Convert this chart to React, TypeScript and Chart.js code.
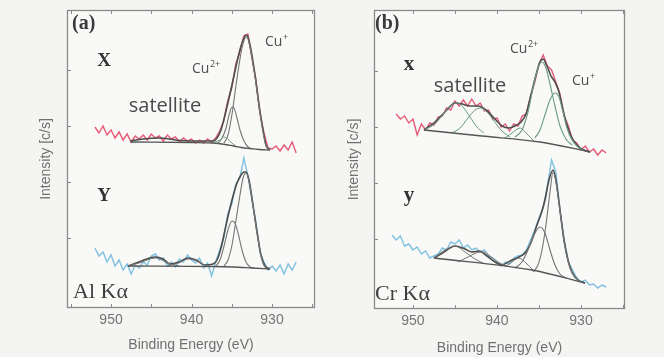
import React, { useEffect, useRef } from "react";
import { Chart, registerables } from "chart.js";
Chart.register(...registerables);

// ---------------- Panel (a): Al Kα ----------------
const aDataE = [952, 951.5, 951, 950.5, 950, 949.5, 949, 948.5, 948, 947.5, 947, 946.5, 946, 945.5, 945, 944.5, 944, 943.5, 943, 942.5, 942, 941.5, 941, 940.5, 940, 939.5, 939, 938.5, 938, 937.5, 937, 936.5, 936, 935.5, 935, 934.5, 934, 933.5, 933, 932.5, 932, 931.5, 931, 930.5, 930, 929.5, 929, 928.5, 928, 927.5, 927];
const aXData = [180, 174, 181, 172, 177, 169, 175, 167, 173, 165, 171, 168, 172, 167, 173, 169, 171, 166, 172, 168, 170, 165, 169, 166, 168, 164, 167, 164, 168, 165, 169, 176, 186, 206, 219, 243, 255, 271, 273, 249, 227, 194, 174, 159, 158, 161, 156, 162, 157, 165, 154];
const aYData = [59, 51, 55, 45, 52, 41, 47, 37, 43, 33, 42, 39, 45, 42, 51, 53, 47, 49, 41, 45, 40, 48, 45, 52, 47, 44, 49, 39, 44, 31, 45, 57, 69, 93, 103, 123, 129, 149, 131, 107, 85, 55, 45, 37, 41, 36, 42, 33, 43, 37, 45];

const aXFitE = [947.6, 946, 944, 942, 940, 938.5, 937.33, 936.83, 936.34, 935.84, 935.34, 934.84, 934.35, 933.85, 933.48, 933.23, 932.98, 932.61, 932.11, 931.61, 931.12, 930.75, 930.25];
const aXFitI = [166, 168, 169, 167, 166, 166, 166, 169, 177, 192, 209, 227, 245, 261, 269, 272, 270, 257, 232, 202, 177, 162, 157];
const aXBgE = [947.6, 940, 937.3, 935.8, 934.8, 933.8, 932.8, 931.6, 930.25];
const aXBgI = [165, 164.5, 164, 162.5, 161, 159.5, 158.5, 157.5, 157];
const aXCu1E = [935.96, 935.47, 935.09, 934.84, 934.47, 934.1, 933.73, 933.35, 933.17, 932.98, 932.61, 932.11, 931.61, 931.12, 930.75, 930.25];
const aXCu1I = [164, 172, 187, 200, 222, 242, 259, 269, 270, 268, 255, 230, 200, 175, 161, 157];
const aXCu2E = [936.71, 936.21, 935.71, 935.34, 934.97, 934.72, 934.35, 933.98, 933.48, 932.98, 932.48];
const aXCu2I = [164, 169, 179, 192, 200, 199, 189, 177, 166, 160, 158];
const aXSatE = [937.5, 936.5, 936, 935.5, 935, 934.5];
const aXSatI = [164, 167, 170, 168, 164, 161];

const aYFitE = [947.9, 946.52, 944.53, 943.54, 942.67, 941.55, 940.43, 939.44, 938.32, 937.33, 936.83, 936.34, 935.84, 935.34, 934.84, 934.35, 933.85, 933.48, 933.23, 932.86, 932.36, 931.86, 931.37, 930.87, 930.25];
const aYFitI = [41, 45, 50, 48, 43, 45, 49, 47, 42, 43, 47, 59, 77, 95, 111, 124, 132, 135, 135, 127, 102, 75, 52, 41, 38];
const aYBgE = [947.9, 937.3, 934.8, 932.5, 930.25];
const aYBgI = [41, 40.5, 40, 39, 38];
const aYCu1E = [935.96, 935.47, 934.97, 934.47, 933.98, 933.6, 933.23, 932.86, 932.36, 931.86, 931.37, 930.87, 930.25];
const aYCu1I = [41, 47, 62, 87, 112, 129, 134, 126, 101, 74, 51, 40, 38];
const aYCu2E = [936.96, 936.46, 935.96, 935.47, 934.97, 934.6, 934.22, 933.73, 933.23, 932.73, 932.24];
const aYCu2I = [41, 47, 61, 77, 86, 84, 74, 57, 45, 40, 39];
const aYSat1E = [947.9, 946.5, 944.5, 942.7, 941.5];
const aYSat1I = [41, 44, 49, 43, 41];
const aYSat2E = [943, 941.6, 940.4, 939.4, 938.2];
const aYSat2I = [41, 44, 48, 46, 41];

// ---------------- Panel (b): Cr Kα ----------------
const bXDataE = [952, 951.5, 951, 950.5, 950, 949.5, 949, 948.5, 948, 947.5, 947, 946.5, 946, 945.5, 945, 944.5, 944, 943.5, 943, 942.5, 942, 941.5, 941, 940.5, 940, 939.5, 939, 938.5, 938, 937.5, 937, 936.5, 936, 935.5, 935, 934.5, 934, 933.5, 933, 932.5, 932, 931.5, 931, 930.5, 930, 929.5, 929, 928.5, 928, 927.5, 927];
const bXData = [194, 189, 192, 185, 189, 173, 184, 178, 185, 183, 191, 192, 200, 198, 207, 202, 208, 202, 209, 202, 205, 197, 198, 189, 190, 181, 184, 177, 184, 182, 192, 194, 212, 226, 244, 253, 242, 238, 226, 214, 192, 182, 168, 165, 158, 162, 156, 159, 153, 158, 155];
const bYDataE = [952.5, 952, 951.5, 951, 950.5, 950, 949.5, 949, 948.5, 948, 947.5, 947, 946.5, 946, 945.5, 945, 944.5, 944, 943.5, 943, 942.5, 942, 941.5, 941, 940.5, 940, 939.5, 939, 938.5, 938, 937.5, 937, 936.5, 936, 935.5, 935, 934.5, 934, 933.5, 933, 932.5, 932, 931.5, 931, 930.5, 930, 929.5, 929, 928.5, 928, 927.5, 927];
const bYData = [73, 68, 72, 62, 64, 58, 61, 54, 57, 50, 52, 54, 60, 58, 66, 64, 68, 60, 63, 58, 60, 56, 58, 52, 50, 46, 42, 46, 44, 50, 52, 53, 58, 68, 78, 90, 100, 122, 148, 136, 98, 68, 46, 38, 30, 26, 28, 23, 24, 20, 23, 21];

const bXFitE = [948.69, 947.38, 946.19, 945, 944.17, 943.21, 942.26, 941.31, 940.36, 939.4, 938.57, 937.86, 937.14, 936.55, 935.95, 935.36, 934.88, 934.52, 934.05, 933.57, 933.1, 932.62, 932.14, 931.67, 931.07, 930.36, 929.64, 928.93];
const bXFitI = [178, 186, 196, 205, 204, 202, 202, 198, 190, 182, 180, 182, 186, 194, 213, 233, 246, 249, 242, 232, 226, 216, 198, 183, 170, 162, 158, 156];
const bXBgE = [948.69, 941.8, 934.88, 928.93];
const bXBgI = [178, 172, 166, 156];
const bXCu2E = [937.86, 937.02, 936.31, 935.71, 935.12, 934.64, 934.17, 933.69, 933.1, 932.5, 931.79, 931.07];
const bXCu2I = [171, 178, 196, 220, 240, 246, 240, 224, 202, 182, 169, 163];
const bXCu1E = [935.48, 934.88, 934.29, 933.69, 933.1, 932.62, 932.14, 931.67, 931.07, 930.36, 929.64];
const bXCu1I = [170, 178, 193, 208, 215, 211, 196, 180, 168, 161, 158];
const bXSmallE = [939.05, 938.21, 937.26, 936.43, 935.6];
const bXSmallI = [170, 175, 180, 174, 167];
const bXSat1E = [948.69, 947.38, 946.19, 945.36, 944.76, 944.05, 943.21, 942.38, 941.55];
const bXSat1I = [178, 184, 196, 203, 205, 201, 191, 181, 175];
const bXSat2E = [945.36, 944.4, 943.45, 942.62, 941.9, 941.19, 940.36, 939.4, 938.45];
const bXSat2I = [175, 180, 190, 198, 200, 196, 187, 177, 171];

const bYFitE = [947.5, 946.31, 945, 943.81, 942.98, 942.14, 941.19, 940.24, 939.4, 938.45, 937.38, 936.55, 935.83, 935.24, 934.76, 934.29, 933.81, 933.33, 932.98, 932.5, 932.02, 931.55, 931.07, 930.36, 929.52];
const bYFitI = [50, 56, 62, 59, 56, 57, 52, 46, 43, 47, 51, 56, 68, 83, 94, 108, 128, 138, 128, 98, 68, 48, 36, 28, 25];
const bYBgE = [947.5, 935.83, 929.52];
const bYBgI = [50, 38, 25];
const bYCu2E = [937.86, 937.02, 936.31, 935.6, 934.88, 934.29, 933.69, 933.1, 932.5, 931.79];
const bYCu2I = [40, 46, 58, 73, 81, 75, 58, 43, 34, 30];
const bYCu1E = [935.71, 935.12, 934.64, 934.17, 933.69, 933.33, 932.98, 932.5, 932.02, 931.55, 931.07, 930.36, 929.52];
const bYCu1I = [36, 43, 58, 83, 116, 136, 126, 97, 67, 47, 35, 28, 25];
const bYSmallE = [939.05, 938.21, 937.38, 936.55, 935.71];
const bYSmallI = [41, 46, 50, 45, 38];
const bYSat1E = [947.5, 946.19, 945, 943.81, 942.62, 941.67];
const bYSat1I = [50, 58, 62, 56, 49, 45];
const bYSat2E = [944.64, 943.45, 942.5, 941.67, 940.83, 939.88, 938.93];
const bYSat2I = [46, 51, 55, 56, 52, 46, 42];

const xTickStep = 5;
const yInnerTicks = [69, 125, 181, 237];
const xTitle = "Binding Energy (eV)";
const yTitle = "Intensity [c/s]";

const RED = "rgba(226,62,96,0.85)";
const BLUE = "rgba(112,186,222,0.9)";
const ENV = "#4d4d4d";
const COMP = "#757575";
const GREEN = "#6a9a84";
const BG = "#555555";

const pts = (e: number[], v: number[]) => e.map((x, i) => ({ x, y: v[i] }));

function dataLine(e: number[], v: number[], color: string) {
  return { data: pts(e, v), borderColor: color, borderWidth: 1.4, pointRadius: 0, tension: 0, order: 10 };
}
function fitLine(e: number[], v: number[], color: string, w: number) {
  return { data: pts(e, v), borderColor: color, borderWidth: w, pointRadius: 0, cubicInterpolationMode: "monotone", order: 1 };
}

type Ann = { text: string; sup?: string; e: number; i: number; font: string; color: string; align: CanvasTextAlign };

const SERIF = '"Liberation Serif", "DejaVu Serif", serif';
const SANS = '"Open Sans", "Liberation Sans", sans-serif';
const AXFONT = '"Liberation Sans", Arial, sans-serif';

const annA: Ann[] = [
  { text: "(a)", e: 954.84, i: 283, font: `bold 20px ${SERIF}`, color: "#3a3a3a", align: "left" },
  { text: "X", e: 950.87, i: 246, font: `bold 19px ${SERIF}`, color: "#333", align: "center" },
  { text: "Cu", sup: "2+", e: 939.94, i: 238, font: `14px ${SANS}`, color: "#4f4f4f", align: "left" },
  { text: "Cu", sup: "+", e: 930.87, i: 265, font: `14px ${SANS}`, color: "#4f4f4f", align: "left" },
  { text: "satellite", e: 943.29, i: 201, font: `20px ${SANS}`, color: "#4a4a4a", align: "center" },
  { text: "Y", e: 950.87, i: 111, font: `bold 19px ${SERIF}`, color: "#333", align: "center" },
  { text: "Al K\u03b1", e: 954.72, i: 15, font: `22px ${SERIF}`, color: "#3f3f3f", align: "left" },
];
const annB: Ann[] = [
  { text: "(b)", e: 954.52, i: 284, font: `bold 20px ${SERIF}`, color: "#3a3a3a", align: "left" },
  { text: "x", e: 950.48, i: 243, font: `bold 21px ${SERIF}`, color: "#333", align: "center" },
  { text: "Cu", sup: "2+", e: 938.45, i: 259, font: `14px ${SANS}`, color: "#4f4f4f", align: "left" },
  { text: "Cu", sup: "+", e: 931.07, i: 227, font: `14px ${SANS}`, color: "#4f4f4f", align: "left" },
  { text: "satellite", e: 943.21, i: 222, font: `20px ${SANS}`, color: "#4a4a4a", align: "center" },
  { text: "y", e: 950.48, i: 112, font: `bold 21px ${SERIF}`, color: "#333", align: "center" },
  { text: "Cr K\u03b1", e: 954.52, i: 14, font: `22px ${SERIF}`, color: "#3f3f3f", align: "left" },
];

type Spec = {
  datasets: any[];
  xMin: number; xMax: number; yMin: number; yMax: number;
  padLeft: number; padRight: number; yAxisW: number; yTitlePad: number;
  xAxisH: number; xTitlePad: number; ann: Ann[];
};

const specA: Spec = {
  datasets: [
    dataLine(aDataE, aXData, RED),
    dataLine(aDataE, aYData, BLUE),
    fitLine(aXBgE, aXBgI, BG, 1.3),
    fitLine(aXSatE, aXSatI, GREEN, 1),
    fitLine(aXCu2E, aXCu2I, COMP, 1.1),
    fitLine(aXCu1E, aXCu1I, COMP, 1.1),
    fitLine(aXFitE, aXFitI, ENV, 1.6),
    fitLine(aYBgE, aYBgI, BG, 1.3),
    fitLine(aYSat1E, aYSat1I, COMP, 1),
    fitLine(aYSat2E, aYSat2I, COMP, 1),
    fitLine(aYCu2E, aYCu2I, COMP, 1.1),
    fitLine(aYCu1E, aYCu1I, COMP, 1.1),
    fitLine(aYFitE, aYFitI, ENV, 1.6),
  ],
  xMin: 924.66, xMax: 955.47, yMin: -1, yMax: 297,
  padLeft: 30, padRight: 17, yAxisW: 37, yTitlePad: 7.6,
  xAxisH: 49, xTitlePad: 3, ann: annA,
};

const specB: Spec = {
  datasets: [
    dataLine(bXDataE, bXData, RED),
    dataLine(bYDataE, bYData, BLUE),
    fitLine(bXBgE, bXBgI, BG, 1.3),
    fitLine(bXSat1E, bXSat1I, GREEN, 1),
    fitLine(bXSat2E, bXSat2I, GREEN, 1),
    fitLine(bXSmallE, bXSmallI, GREEN, 1),
    fitLine(bXCu2E, bXCu2I, GREEN, 1.1),
    fitLine(bXCu1E, bXCu1I, GREEN, 1.1),
    fitLine(bXFitE, bXFitI, ENV, 1.6),
    fitLine(bYBgE, bYBgI, BG, 1.3),
    fitLine(bYSat1E, bYSat1I, COMP, 1),
    fitLine(bYSat2E, bYSat2I, COMP, 1),
    fitLine(bYSmallE, bYSmallI, COMP, 1),
    fitLine(bYCu2E, bYCu2I, COMP, 1.1),
    fitLine(bYCu1E, bYCu1I, COMP, 1.1),
    fitLine(bYFitE, bYFitI, ENV, 1.6),
  ],
  xMin: 924.76, xMax: 954.64, yMin: -1, yMax: 298,
  padLeft: 10, padRight: 39, yAxisW: 32, yTitlePad: 3.6,
  xAxisH: 48, xTitlePad: 0, ann: annB,
};

function framePlugin(ann: Ann[]) {
  return {
    id: "frame",
    beforeDraw(chart: any) {
      const { ctx, chartArea: a } = chart;
      ctx.save();
      ctx.fillStyle = "#f9f9f7";
      ctx.fillRect(a.left, a.top, a.right - a.left, a.bottom - a.top);
      ctx.restore();
    },
    afterDraw(chart: any) {
      const { ctx, chartArea: a, scales } = chart;
      ctx.save();
      ctx.strokeStyle = "#8a8a8a";
      ctx.lineWidth = 1.3;
      ctx.strokeRect(a.left + 0.5, a.top + 0.5, a.right - a.left - 1, a.bottom - a.top - 1);
      ctx.lineWidth = 1;
      ctx.beginPath();
      for (const t of scales.x.ticks) {
        const px = Math.round(scales.x.getPixelForValue(t.value)) + 0.5;
        ctx.moveTo(px, a.bottom); ctx.lineTo(px, a.bottom - 4);
        ctx.moveTo(px, a.top); ctx.lineTo(px, a.top + 4);
      }
      for (const v of yInnerTicks) {
        const py = Math.round(scales.y.getPixelForValue(v)) + 0.5;
        ctx.moveTo(a.left, py); ctx.lineTo(a.left + 4, py);
      }
      ctx.stroke();
      ctx.textBaseline = "middle";
      for (const n of ann) {
        const x = scales.x.getPixelForValue(n.e);
        const y = scales.y.getPixelForValue(n.i);
        ctx.font = n.font;
        ctx.fillStyle = n.color;
        ctx.textAlign = n.align;
        ctx.fillText(n.text, x, y);
        if (n.sup) {
          const w = ctx.measureText(n.text).width;
          ctx.font = `9px ${SANS}`;
          ctx.textAlign = "left";
          ctx.fillText(n.sup, x + w + 0.5, y - 5);
        }
      }
      ctx.restore();
    },
  };
}

function makeChart(canvas: HTMLCanvasElement, s: Spec) {
  return new Chart(canvas, {
    type: "line",
    data: { datasets: s.datasets },
    options: {
      animation: false,
      responsive: false,
      maintainAspectRatio: false,
      devicePixelRatio: 1,
      layout: { padding: { left: s.padLeft, right: s.padRight, top: 10, bottom: 0 } },
      plugins: { legend: { display: false }, tooltip: { enabled: false }, title: { display: false } },
      scales: {
        x: {
          type: "linear",
          reverse: true,
          min: s.xMin,
          max: s.xMax,
          afterFit: (sc: any) => { sc.height = s.xAxisH; },
          grid: { display: false, drawTicks: false },
          border: { display: false },
          ticks: {
            stepSize: xTickStep,
            includeBounds: false,
            autoSkip: false,
            maxRotation: 0,
            padding: 4,
            color: "#747474",
            font: { family: AXFONT, size: 14 },
            callback: (v: any) => (Number(v) % 10 === 0 ? String(v) : ""),
          },
          title: {
            display: true,
            text: xTitle,
            color: "#707070",
            font: { family: AXFONT, size: 14 },
            padding: { top: 0, bottom: s.xTitlePad },
          },
        },
        y: {
          type: "linear",
          min: s.yMin,
          max: s.yMax,
          afterFit: (sc: any) => { sc.width = s.yAxisW; },
          grid: { display: false, drawTicks: false },
          border: { display: false },
          ticks: { display: false },
          title: {
            display: true,
            text: yTitle,
            color: "#707070",
            font: { family: AXFONT, size: 14 },
            padding: { top: s.yTitlePad, bottom: 0 },
          },
        },
      },
    } as any,
    plugins: [framePlugin(s.ann)],
  } as any);
}

export default function App() {
  const refA = useRef<HTMLCanvasElement>(null);
  const refB = useRef<HTMLCanvasElement>(null);
  useEffect(() => {
    const ca = makeChart(refA.current!, specA);
    const cb = makeChart(refB.current!, specB);
    return () => { ca.destroy(); cb.destroy(); };
  }, []);
  const cs: React.CSSProperties = { position: "absolute", top: 0, width: 332, height: 357 };
  return (
    <div style={{ position: "fixed", left: 0, top: 0, width: 664, height: 357, background: "#f4f4f2", overflow: "hidden" }}>
      <canvas ref={refA} width={332} height={357} style={{ ...cs, left: 0 }} />
      <canvas ref={refB} width={332} height={357} style={{ ...cs, left: 332 }} />
    </div>
  );
}
